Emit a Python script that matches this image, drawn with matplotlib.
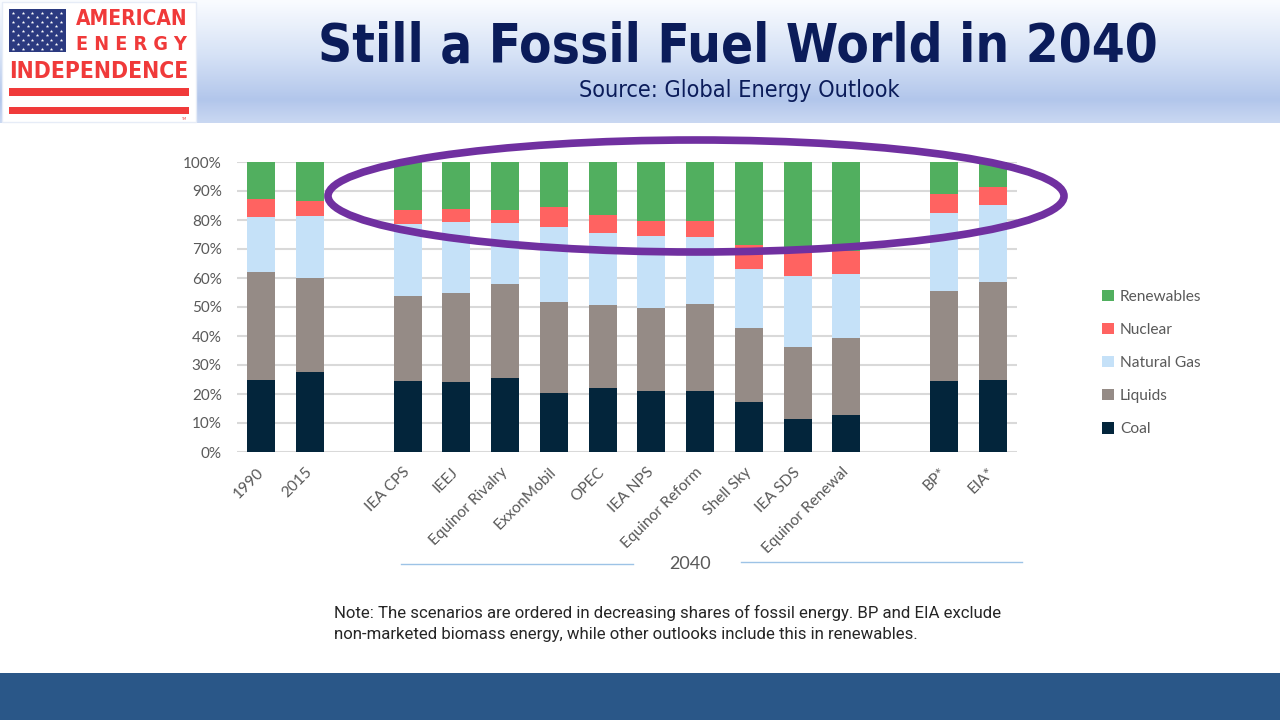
import numpy as np
import matplotlib
matplotlib.use('Agg')
import matplotlib.pyplot as plt
from matplotlib.patches import Rectangle, Ellipse, Patch

# scenario labels and group (a gap is left between groups)
labels = ['1990', '2015', 'IEA CPS', 'IEEJ', 'Equinor Rivalry', 'ExxonMobil', 'OPEC',
          'IEA NPS', 'Equinor Reform', 'Shell Sky', 'IEA SDS', 'Equinor Renewal',
          'BP*', 'EIA*']
groups = ['hist', 'hist'] + ['2040'] * 10 + ['excl', 'excl']

# shares of primary energy, %
coal = [25.0, 27.7, 24.5, 24.0, 25.6, 20.2, 22.2, 21.2, 20.9, 17.1, 11.3, 12.6, 24.5, 24.8]
liquids = [37.2, 32.4, 29.4, 30.7, 32.2, 31.6, 28.5, 28.3, 30.1, 25.8, 25.0, 26.6, 31.1, 33.8]
gas = [18.9, 21.4, 24.7, 24.5, 21.3, 25.9, 24.9, 25.0, 23.0, 20.1, 24.4, 22.2, 26.9, 26.7]
nuclear = [6.0, 4.9, 4.7, 4.6, 4.3, 6.7, 6.1, 5.3, 5.5, 8.4, 9.5, 8.0, 6.6, 6.2]
renewables = [12.9, 13.6, 16.7, 16.2, 16.6, 15.6, 18.3, 20.2, 20.5, 28.6, 29.8, 30.6, 10.9, 8.5]

series = [('Coal', coal, '#03253b'),
          ('Liquids', liquids, '#958b86'),
          ('Natural Gas', gas, '#c5e1f8'),
          ('Nuclear', nuclear, '#ff6361'),
          ('Renewables', renewables, '#51af5f')]

yticks = [0, 10, 20, 30, 40, 50, 60, 70, 80, 90, 100]

# x positions: one empty slot between groups
xpos = []
x = 0
for i, g in enumerate(groups):
    if i > 0 and g != groups[i - 1]:
        x += 1
    xpos.append(x)
    x += 1
xpos = np.array(xpos)

W, H = 1280, 720
fig = plt.figure(figsize=(12.8, 7.2), dpi=100)
fig.patch.set_facecolor('white')

# background decorations in pixel coordinates
bg = fig.add_axes([0, 0, 1, 1], zorder=0)
bg.set_xlim(0, W)
bg.set_ylim(H, 0)
bg.axis('off')

# header gradient
stops_y = [0, 55, 100, 123]
stops_c = np.array([[250, 252, 255], [214, 226, 246], [178, 198, 235], [202, 216, 242]]) / 255
yy = np.arange(0, 124)
grad = np.stack([np.interp(yy, stops_y, stops_c[:, k]) for k in range(3)], axis=1)
grad = np.repeat(grad[:, None, :], 2, axis=1)
bg.imshow(grad, extent=(0, W, 123, 0), aspect='auto', interpolation='bilinear', zorder=0)

# footer band
bg.add_patch(Rectangle((0, 673), W, 47, facecolor='#2a5788', edgecolor='none', zorder=1))

# logo
bg.add_patch(Rectangle((2, 2), 194, 120, facecolor='white', edgecolor='#e6ecf7', lw=1, zorder=2))
bg.add_patch(Rectangle((9, 9), 57, 43, facecolor='#2b3a80', edgecolor='none', zorder=3))
for r in range(9):
    ncol = 6 if r % 2 == 0 else 5
    off = 13 if r % 2 == 0 else 18
    for c in range(ncol):
        bg.plot(off + c * 9.5, 12.5 + r * 4.5, marker='*', color='white', ms=2.6,
                mec='none', zorder=4)
bg.add_patch(Rectangle((9, 88), 180, 8, facecolor='#f03a3a', edgecolor='none', zorder=3))
bg.add_patch(Rectangle((9, 107), 180, 7, facecolor='#f03a3a', edgecolor='none', zorder=3))

narrow = ['DejaVu Sans']
renderer = fig.canvas.get_renderer()


def fit_text(ax, x, y, s, width, size, **kw):
    t = ax.text(x, y, s, fontsize=size, **kw)
    w = t.get_window_extent(renderer).width
    t.set_fontsize(size * width / w)
    return t


fit_text(bg, 76, 19, 'AMERICAN', 112, 16, color='#f03a3a', fontweight='bold',
         family=narrow, fontstretch='condensed', ha='left', va='center', zorder=5)
fit_text(bg, 76, 44.5, 'E N E R G Y', 112, 16, color='#f03a3a', fontweight='bold',
         family=narrow, fontstretch='condensed', ha='left', va='center', zorder=5)
fit_text(bg, 9, 71, 'INDEPENDENCE', 180, 16, color='#f03a3a', fontweight='bold',
         family=narrow, fontstretch='condensed', ha='left', va='center', zorder=5)
bg.text(184, 119, 'TM', fontsize=2.5, color='#f03a3a', ha='center', va='center', zorder=5)

# title
fit_text(bg, 738, 47, 'Still a Fossil Fuel World in 2040', 840, 40, color='#0b1c5a',
         fontweight='bold', family=narrow, fontstretch='condensed',
         ha='center', va='center', zorder=5)
fit_text(bg, 739, 90, 'Source: Global Energy Outlook', 324, 16, color='#0b1c5a',
         family=narrow, fontstretch='condensed', ha='center', va='center', zorder=5)

# 2040 bracket
bg.plot([401, 633], [563.5, 563.5], color='#9dc3e6', lw=1, zorder=2)
bg.plot([741, 1022], [562, 562], color='#9dc3e6', lw=1, zorder=2)
bg.text(690, 564, '2040', fontsize=13, color='#595959', family=['Lato', 'DejaVu Sans'],
        ha='center', va='center', zorder=5)

# note
note_kw = dict(color='#262626', family=['Roboto', 'DejaVu Sans'], ha='left', va='center', zorder=5)
fit_text(bg, 334, 613, 'Note: The scenarios are ordered in decreasing shares of fossil energy. '
         'BP and EIA exclude', 666, 11, **note_kw)
fit_text(bg, 334, 634, 'non-marketed biomass energy, while other outlooks include this in '
         'renewables.', 584, 11, **note_kw)

# chart
ax = fig.add_axes([237 / W, 1 - 452 / H, 780 / W, 290 / H], zorder=1)
ax.patch.set_alpha(0)
bottom = np.zeros(len(labels))
handles = []
for name, vals, col in series:
    vals = np.array(vals)
    ax.bar(xpos, vals, 0.57, bottom=bottom, color=col, edgecolor='none', zorder=2)
    bottom += vals
    handles.append(Patch(facecolor=col, edgecolor='none', label=name))

ax.set_xlim(-0.5, xpos[-1] + 0.5)
ax.set_ylim(0, 100)
ax.yaxis.grid(True, color='#d9d9d9', lw=1.5, zorder=0)
ax.set_axisbelow(True)
for sp in ax.spines.values():
    sp.set_visible(False)
ax.tick_params(axis='both', length=0, colors='#595959')
ax.tick_params(axis='y', pad=11)
ax.tick_params(axis='x', pad=13)
ax.set_yticks(yticks)
ax.set_yticklabels([f'{v}%' for v in yticks], family=['Lato', 'DejaVu Sans'], fontsize=11)
ax.set_xticks(xpos)
ax.set_xticklabels(labels, rotation=45, ha='right', va='center', rotation_mode='anchor',
                   family=['Lato', 'DejaVu Sans'], fontsize=11.2)

leg = fig.legend(handles[::-1], [h.get_label() for h in handles[::-1]], loc='center left',
                 bbox_to_anchor=(1088 / W, 1 - 363 / H), frameon=False,
                 handlelength=0.75, handleheight=0.75, handletextpad=0.4, labelspacing=1.22,
                 prop={'family': ['Lato', 'DejaVu Sans'], 'size': 11.2})
for t in leg.get_texts():
    t.set_color('#595959')

# highlight ellipse
ov = fig.add_axes([0, 0, 1, 1], zorder=3)
ov.set_xlim(0, W)
ov.set_ylim(H, 0)
ov.axis('off')
ov.patch.set_alpha(0)
ov.add_patch(Ellipse((696, 196), 736, 112, facecolor='none', edgecolor='#7030a0', lw=5.5))

fig.savefig('out.png', dpi=100)
